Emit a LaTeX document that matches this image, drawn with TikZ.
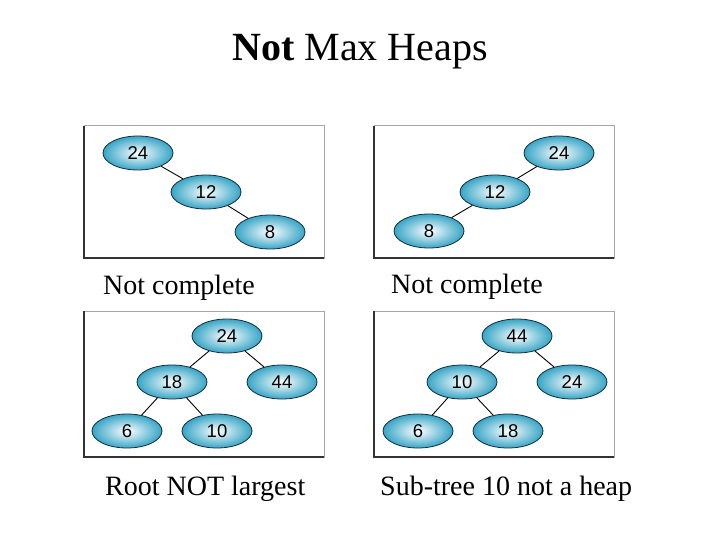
\documentclass[tikz,border=0pt]{standalone}
\usepackage{fontspec}
\setmainfont{Liberation Serif}
\newfontfamily\numfont{Liberation Sans}
\usetikzlibrary{shapes.geometric}
\definecolor{heapcyan}{RGB}{55,165,198}
\definecolor{heapedge}{RGB}{20,45,55}
\tikzset{
  hnode/.style={ellipse, draw=heapedge, line width=0.8pt, inner color=white, outer color=heapcyan,
    minimum width=70pt, minimum height=34pt, inner sep=0pt, font=\numfont\fontsize{18.5pt}{18.5pt}\selectfont},
  hedge/.style={draw=black, line width=0.9pt},
  frameline/.style={draw=gray!70, line width=1pt},
  frameshadow/.style={draw=black!80, line width=1.3pt},
  caption/.style={anchor=base west, inner sep=0pt, font=\fontsize{28pt}{28pt}\selectfont}
}
\newcommand{\heapframe}[4]{%
  \draw[frameline] (#1,#2) rectangle (#3,#4);
  \draw[frameshadow] (#1,#2) -- (#1,#4) -- (#3,#4);
}
\begin{document}
\begin{tikzpicture}[x=1pt,y=-1pt]
\useasboundingbox[fill=white] (0,0) rectangle (720,540);
% title
\node[anchor=base, inner sep=0pt, font=\fontsize{40pt}{40pt}\selectfont] (title) at (360,61) {\textbf{Not} Max Heaps};

% frames
\heapframe{84}{126}{324}{258}
\heapframe{374}{126}{614}{258}
\heapframe{84}{311}{324}{457}
\heapframe{374}{311}{614}{457}

% panel 1
\node[hnode] (a24) at (138,153) {24};
\node[hnode] (a12) at (206,192) {12};
\node[hnode] (a8)  at (270,232) {8};
\draw[hedge] (a24) -- (a12);
\draw[hedge] (a12) -- (a8);

% panel 2
\node[hnode] (b24) at (559,153) {24};
\node[hnode] (b12) at (495,192) {12};
\node[hnode] (b8)  at (429,231) {8};
\draw[hedge] (b24) -- (b12);
\draw[hedge] (b12) -- (b8);

% panel 3
\node[hnode] (c24) at (227,336) {24};
\node[hnode] (c18) at (172,382) {18};
\node[hnode] (c44) at (282,382) {44};
\node[hnode] (c6)  at (127,431) {6};
\node[hnode] (c10) at (217,431) {10};
\draw[hedge] (c24) -- (c18);
\draw[hedge] (c24) -- (c44);
\draw[hedge] (c18) -- (c6);
\draw[hedge] (c18) -- (c10);

% panel 4
\node[hnode] (d44) at (517,336) {44};
\node[hnode] (d10) at (462,382) {10};
\node[hnode] (d24) at (572,382) {24};
\node[hnode] (d6)  at (418,431) {6};
\node[hnode] (d18) at (508,431) {18};
\draw[hedge] (d44) -- (d10);
\draw[hedge] (d44) -- (d24);
\draw[hedge] (d10) -- (d6);
\draw[hedge] (d10) -- (d18);

% captions
\node[caption] (l1) at (103,294) {Not complete};
\node[caption] (l2) at (391,293) {Not complete};
\node[caption] (l3) at (105,495) {Root NOT largest};
\node[caption] (l4) at (380,495) {Sub-tree 10 not a heap};
\end{tikzpicture}
\end{document}
